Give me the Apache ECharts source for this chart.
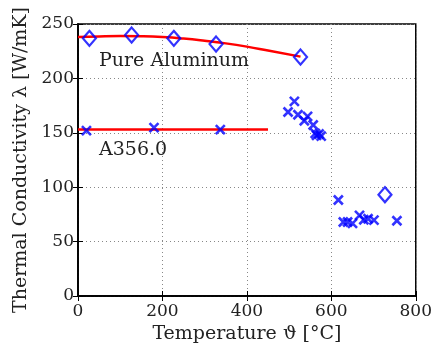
<!DOCTYPE html>
<html>
<head>
<meta charset="utf-8">
<script src="https://cdn.jsdelivr.net/npm/echarts@6/dist/echarts.min.js"></script>
<style>html,body{margin:0;padding:0;background:#fff}#c{width:435px;height:352px}</style>
</head>
<body>
<div id="c"></div>
<script>
// Pure aluminum measured points [temperature, conductivity]
var pureAlPoints = [[27,236.8],[127,239.9],[227,236.8],[327,231.6],[527,219.7],[727,93.1]];
// Pure aluminum fitted curve
var pureAlFit = [[0,238],[50,238.6],[100,238.9],[150,238.7],[200,238],[250,236.6],[300,234.6],[350,232.2],[400,229.2],[450,225.6],[527,220]];
// A356.0 measured points
var a356Points = [[20,152],[180,154.7],[337,152.9],
  [497.5,169.1],[512.5,178.9],[521,166.6],[536,161.1],[543.7,165.1],[557,157.2],[561.8,149.5],[565,147.6],[571,148.9],[576,147],
  [616.6,88.2],[628.4,68],[638.5,68],[650.2,66.7],[666.7,74.1],[677,70.1],[687,71],[701,69.8],[755.3,69.2]];
// A356.0 fitted line
var a356Fit = [[0,153],[450,153]];
var xTicks = [0,200,400,600,800];
var yTicks = [0,50,100,150,200,250];

var font = 'DejaVu Serif';
var fs = 17;   // tick labels
var fsT = 19;  // titles and annotations
var chart = echarts.init(document.getElementById('c'), null, {renderer:'canvas'});
var crossPath = 'path://M0,0L10,10M10,0L0,10';
var gridLine = {show:true, lineStyle:{color:'#888', type:[1,3], width:1}};
chart.setOption({
  animation:false,
  grid:{left:78, right:17, top:24, bottom:56, show:true, borderColor:'#000', borderWidth:1.5},
  xAxis:[{
    type:'value', min:xTicks[0], max:xTicks[xTicks.length-1], interval:200,
    name:'Temperature \u03D1 [\u00B0C]', nameLocation:'middle', nameGap:29,
    nameTextStyle:{fontFamily:font, fontSize:fsT, color:'#222'},
    axisLine:{show:true, lineStyle:{color:'#000', width:1.5}},
    axisTick:{show:true, inside:true, length:5, lineStyle:{color:'#000'}},
    axisLabel:{fontFamily:font, fontSize:fs, color:'#222', margin:7},
    splitLine:gridLine
  },{
    type:'value', position:'top', min:0, max:800, interval:200,
    axisLine:{show:true, lineStyle:{color:'#000', width:1.5}},
    axisTick:{show:true, inside:true, length:5, lineStyle:{color:'#000'}},
    axisLabel:{show:false}, splitLine:{show:false}
  }],
  yAxis:[{
    type:'value', min:yTicks[0], max:yTicks[yTicks.length-1], interval:50,
    name:'Thermal Conductivity \u03BB [W/mK]', nameLocation:'middle', nameGap:41,
    nameTextStyle:{fontFamily:font, fontSize:fsT, color:'#222'},
    axisLine:{show:true, lineStyle:{color:'#000', width:1.5}},
    axisTick:{show:true, inside:true, length:5, lineStyle:{color:'#000'}},
    axisLabel:{fontFamily:font, fontSize:fs, color:'#222', margin:4},
    splitLine:gridLine
  },{
    type:'value', position:'right', min:0, max:250, interval:50,
    axisLine:{show:true, lineStyle:{color:'#000', width:1.5}},
    axisTick:{show:true, inside:true, length:5, lineStyle:{color:'#000'}},
    axisLabel:{show:false}, splitLine:{show:false}
  }],
  series:[
    {type:'line', data:pureAlFit, smooth:true, symbol:'none', lineStyle:{color:'#ff0000', width:2.5}, z:3},
    {type:'line', data:a356Fit, symbol:'none', lineStyle:{color:'#ff0000', width:2.5}, z:3},
    {type:'scatter', data:pureAlPoints, symbol:'diamond', symbolSize:[13,15],
      itemStyle:{color:'rgba(255,255,255,0)', borderColor:'#0000ff', borderWidth:2.2}, z:5},
    {type:'scatter', data:a356Points, symbol:crossPath, symbolSize:9,
      itemStyle:{color:'#0000ff', borderColor:'#0000ff', borderWidth:2.6}, z:5}
  ],
  graphic:[
    {type:'text', left:99, top:52, style:{text:'Pure Aluminum', fontFamily:font, fontSize:fsT, fill:'#222'}},
    {type:'text', left:99, top:141, style:{text:'A356.0', fontFamily:font, fontSize:fsT, fill:'#222'}}
  ]
});
</script>
</body>
</html>
